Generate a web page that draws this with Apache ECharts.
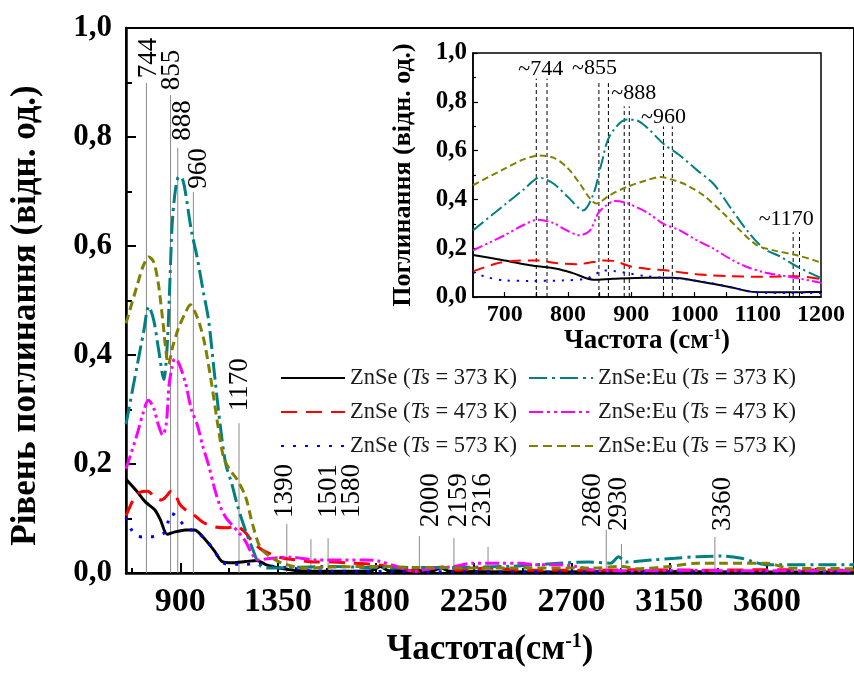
<!DOCTYPE html>
<html>
<head>
<meta charset="utf-8">
<script src="https://cdn.jsdelivr.net/npm/echarts@6/dist/echarts.min.js"></script>
<style>
html, body { margin: 0; padding: 0; background: #fff; }
#chart { width: 854px; height: 675px; }
</style>
</head>
<body>
<div id="chart"></div>
<script>
// Absorption spectra: [wavenumber cm^-1, absorbance]
const seriesNames = [
  'ZnSe (Ts = 373 K)', 'ZnSe (Ts = 473 K)', 'ZnSe (Ts = 573 K)',
  'ZnSe:Eu (Ts = 373 K)', 'ZnSe:Eu (Ts = 473 K)', 'ZnSe:Eu (Ts = 573 K)'
];

const znse373 = [[650,0.172],[700,0.15],[740,0.13],[782,0.116],[808,0.098],[840,0.071],[872,0.075],[924,0.079],[965,0.079],[1004,0.066],[1056,0.041],[1093,0.021],[1141,0.019],[1200,0.021],[1251,0.023],[1296,0.015],[1355,0.009],[1446,0.004],[1600,0.003],[1780,0.004],[1820,0.012],[1860,0.004],[2060,0.004],[2100,0.009],[2140,0.003],[2600,0.002],[3000,0.003],[3500,0.002],[4000,0.002]];
const znse473 = [[650,0.105],[687,0.137],[713,0.148],[750,0.15],[782,0.139],[813,0.134],[840,0.143],[856,0.15],[872,0.148],[898,0.126],[924,0.116],[961,0.107],[1004,0.093],[1056,0.085],[1109,0.083],[1160,0.085],[1200,0.074],[1232,0.057],[1278,0.042],[1355,0.029],[1432,0.024],[1524,0.02],[1600,0.02],[1688,0.018],[1811,0.015],[1902,0.009],[1980,0.003],[2052,0.008],[2110,0.011],[2175,0.005],[2312,0.009],[2500,0.005],[2800,0.005],[3000,0.006],[3300,0.005],[3600,0.006],[4000,0.005]];
const znse573 = [[650,0.102],[671,0.082],[700,0.068],[740,0.066],[792,0.068],[829,0.075],[845,0.096],[856,0.109],[872,0.107],[898,0.096],[924,0.085],[951,0.079],[977,0.075],[1030,0.055],[1083,0.025],[1109,0.017],[1200,0.016],[1251,0.017],[1330,0.012],[1432,0.008],[1506,0.004],[1700,0.003],[2500,0.002],[4000,0.002]];
const eu373 = [[650,0.273],[700,0.378],[730,0.44],[755,0.489],[777,0.465],[800,0.41],[824,0.355],[840,0.42],[853,0.546],[866,0.66],[893,0.727],[909,0.724],[924,0.697],[951,0.628],[977,0.58],[1004,0.52],[1030,0.464],[1056,0.369],[1083,0.273],[1109,0.2],[1136,0.165],[1162,0.125],[1200,0.078],[1232,0.045],[1264,0.015],[1300,0.009],[1400,0.01],[1600,0.012],[1800,0.01],[2000,0.01],[2400,0.012],[2780,0.02],[2880,0.018],[2917,0.03],[2950,0.02],[3072,0.024],[3177,0.027],[3282,0.03],[3391,0.031],[3482,0.027],[3541,0.02],[3600,0.015],[4000,0.015]];
const eu473 = [[650,0.191],[700,0.253],[729,0.294],[753,0.317],[777,0.303],[798,0.273],[819,0.253],[835,0.273],[848,0.344],[861,0.376],[874,0.393],[893,0.385],[924,0.348],[951,0.30],[977,0.273],[1004,0.232],[1030,0.198],[1056,0.157],[1083,0.123],[1109,0.102],[1136,0.089],[1167,0.075],[1200,0.058],[1230,0.035],[1255,0.024],[1300,0.026],[1401,0.029],[1524,0.024],[1751,0.024],[1811,0.022],[1902,0.011],[1980,0.003],[2050,0.008],[2159,0.012],[2250,0.018],[2371,0.018],[2462,0.018],[2539,0.015],[2644,0.015],[2720,0.012],[2813,0.005],[3000,0.004],[3200,0.005],[3500,0.004],[4000,0.004]];
const eu573 = [[650,0.458],[700,0.526],[729,0.563],[755,0.58],[777,0.571],[798,0.533],[819,0.464],[835,0.403],[845,0.383],[866,0.417],[893,0.451],[924,0.478],[946,0.492],[965,0.481],[988,0.458],[1014,0.417],[1046,0.342],[1072,0.273],[1099,0.212],[1125,0.191],[1162,0.171],[1200,0.14],[1232,0.09],[1264,0.05],[1296,0.035],[1369,0.018],[1478,0.009],[1600,0.011],[1800,0.012],[2000,0.01],[2400,0.009],[2800,0.009],[2930,0.012],[3000,0.008],[3150,0.012],[3282,0.018],[3391,0.018],[3600,0.018],[3700,0.009],[4000,0.008]];
const spectra = [znse373, znse473, znse573, eu373, eu473, eu573];

// Peak markers on the main panel: marker position, top of the marker line,
// where its label is anchored (x) and where the label starts (y)
const peaks = [744, 855, 888, 960, 1170, 1390, 1501, 1580, 2000, 2159, 2316, 2860, 2930, 3360];
const peakLineTops = [0.899, 0.877, 0.78, 0.699, 0.275, 0.09, 0.062, 0.064, 0.068, 0.064, 0.048, 0.079, 0.053, 0.066];
const peakLabelX = [755, 860, 914, 987, 1174, 1383, 1582, 1688, 2053, 2180, 2292, 2800, 2916, 3396];
const peakLabelBases = [0.908, 0.886, 0.793, 0.705, 0.297, 0.101, 0.101, 0.101, 0.084, 0.084, 0.084, 0.084, 0.077, 0.077];

// Inset markers: paired dashed lines and their labels
const insetLabels = ['~744', '~855', '~888', '~960', '~1170'];
const insetPairs = [[750, 767], [849, 864], [889, 897], [951, 965], [1156, 1166]];
const insetPairTops = [0.895, 0.881, 0.781, 0.699, 0.266];
const insetLabelX = [757, 842, 904, 951, 1145];
const insetLabelY = [0.934, 0.939, 0.836, 0.738, 0.32];

// Axis ticks
const mainXTicks = [900, 1350, 1800, 2250, 2700, 3150, 3600];
const mainXMinor = [675, 1125, 1575, 2025, 2475, 2925, 3375, 3825];
const insetXLabels = [700, 800, 900, 1000, 1100, 1200];
const insetXTicks = [700, 750, 800, 850, 900, 950, 1000, 1050, 1100, 1150];

const SERIF = '"Liberation Serif", "Times New Roman", serif';
const lineLooks = [
  { color: '#000000', type: 'solid' },
  { color: '#ff0000', type: [16, 9] },
  { color: '#0000ff', type: [3, 9] },
  { color: '#008080', type: [18, 5, 3, 5] },
  { color: '#ff00ff', type: [14, 4, 3, 4, 3, 4] },
  { color: '#808000', type: [9, 5] }
];
const scaleDash = (t, k) => Array.isArray(t) ? t.map(v => v * k) : t;
const comma = v => v.toFixed(1).replace('.', ',');
const plain = v => String(v);

const chart = echarts.init(document.getElementById('chart'), null, { renderer: 'canvas' });

const series = [];

// main panel peak markers
series.push({
  type: 'custom',
  xAxisIndex: 0, yAxisIndex: 0,
  z: 1,
  clip: false,
  data: peaks.map((p, i) => [p, peakLineTops[i], peakLabelX[i], peakLabelBases[i]]),
  renderItem: function (params, api) {
    const x = api.value(0);
    const p0 = api.coord([x, 0]);
    const p1 = api.coord([x, api.value(1)]);
    const pl = api.coord([api.value(2), api.value(3)]);
    return {
      type: 'group',
      children: [
        { type: 'line', shape: { x1: p0[0], y1: p0[1], x2: p1[0], y2: p1[1] },
          style: { stroke: '#8a8a8a', lineWidth: 1 } },
        { type: 'text', x: pl[0], y: pl[1], rotation: Math.PI / 2,
          style: { text: String(x), fontFamily: SERIF, fontSize: 27, fill: '#000',
                   align: 'left', verticalAlign: 'middle' } }
      ]
    };
  }
});

spectra.forEach((d, i) => {
  series.push({
    name: seriesNames[i],
    type: 'line',
    xAxisIndex: 0, yAxisIndex: 0,
    data: d,
    smooth: 0.3,
    symbol: 'none',
    z: 3,
    lineStyle: { color: lineLooks[i].color, type: lineLooks[i].type, width: 3 },
    itemStyle: { color: lineLooks[i].color }
  });
});

// inset markers
series.push({
  type: 'custom',
  xAxisIndex: 2, yAxisIndex: 1,
  z: 1,
  clip: false,
  data: insetPairs.map((p, i) => [p[0], p[1], insetPairTops[i], insetLabelX[i], insetLabelY[i]]),
  renderItem: function (params, api) {
    const top = api.value(2);
    const kids = [0, 1].map(k => {
      const b = api.coord([api.value(k), 0]);
      const t = api.coord([api.value(k), top]);
      return { type: 'line', shape: { x1: b[0], y1: b[1], x2: t[0], y2: t[1] },
               style: { stroke: '#000', lineWidth: 1, lineDash: [4, 3] } };
    });
    const pl = api.coord([api.value(3), api.value(4)]);
    kids.push({ type: 'text', x: pl[0], y: pl[1],
      style: { text: insetLabels[params.dataIndex], fontFamily: SERIF, fontSize: 22, fill: '#000',
               align: 'center', verticalAlign: 'middle' } });
    return { type: 'group', children: kids };
  }
});

spectra.forEach((d, i) => {
  series.push({
    name: seriesNames[i],
    type: 'line',
    xAxisIndex: 2, yAxisIndex: 1,
    data: d,
    smooth: 0.3,
    symbol: 'none',
    z: 3,
    lineStyle: { color: lineLooks[i].color, type: scaleDash(lineLooks[i].type, 0.75), width: 2 },
    itemStyle: { color: lineLooks[i].color }
  });
});

const legendText = {
  fontFamily: SERIF, fontSize: 22.5, lineHeight: 24, color: '#1a1a1a',
  rich: { i: { fontFamily: SERIF, fontSize: 22.5, lineHeight: 24, fontStyle: 'italic', color: '#1a1a1a' } }
};
const legendFmt = name => name.replace('Ts', '{i|Ts}');
const legendBase = {
  orient: 'vertical', top: 361, itemWidth: 64, itemHeight: 14, itemGap: 10,
  selectedMode: false, textStyle: legendText, formatter: legendFmt,
  itemStyle: { opacity: 0 }
};

const option = {
  animation: false,
  backgroundColor: '#fff',
  grid: [
    { left: 125, top: 28, width: 736, height: 545, show: true, borderColor: '#000', borderWidth: 2 },
    { left: 473, top: 53, width: 348, height: 244, show: true, borderColor: '#000', borderWidth: 1.5 }
  ],
  legend: [
    Object.assign({ data: seriesNames.slice(0, 3), left: 275 }, legendBase),
    Object.assign({ data: seriesNames.slice(3), left: 523 }, legendBase)
  ],
  xAxis: [
    {
      gridIndex: 0, type: 'value', min: 650, max: 4000, position: 'bottom',
      axisLine: { lineStyle: { color: '#000', width: 2.5 } },
      axisTick: { inside: true, length: 10, customValues: mainXTicks, lineStyle: { color: '#000', width: 2 } },
      axisLabel: { customValues: mainXTicks, formatter: plain, fontFamily: SERIF, fontWeight: 'bold', fontSize: 34, color: '#000', margin: 12 },
      splitLine: { show: false },
      name: 'Частота(см{sup|-1})', nameLocation: 'middle', nameGap: 59,
      nameTextStyle: { fontFamily: SERIF, fontWeight: 'bold', fontSize: 35, color: '#000',
        rich: { sup: { fontFamily: SERIF, fontWeight: 'bold', fontSize: 20, color: '#000', verticalAlign: 'top' } } }
    },
    {
      gridIndex: 0, type: 'value', min: 650, max: 4000, position: 'bottom',
      axisLine: { show: false },
      axisTick: { inside: true, length: 5, customValues: mainXMinor, lineStyle: { color: '#000', width: 2 } },
      axisLabel: { show: false },
      splitLine: { show: false }
    },
    {
      gridIndex: 1, type: 'value', min: 650, max: 1200, position: 'bottom',
      axisLine: { lineStyle: { color: '#000', width: 1.5 } },
      axisTick: { inside: true, length: 5, customValues: insetXTicks, lineStyle: { color: '#000', width: 1.2 } },
      axisLabel: { customValues: insetXLabels, formatter: plain, fontFamily: SERIF, fontWeight: 'bold', fontSize: 24, color: '#000', margin: 6 },
      splitLine: { show: false },
      name: 'Частота (см{sup|-1})', nameLocation: 'middle', nameGap: 30,
      nameTextStyle: { fontFamily: SERIF, fontWeight: 'bold', fontSize: 27, color: '#000',
        rich: { sup: { fontFamily: SERIF, fontWeight: 'bold', fontSize: 15, color: '#000', verticalAlign: 'top' } } }
    }
  ],
  yAxis: [
    {
      gridIndex: 0, type: 'value', min: 0, max: 1, interval: 0.2,
      axisLine: { lineStyle: { color: '#000', width: 2.5 } },
      axisTick: { inside: true, length: 10, lineStyle: { color: '#000', width: 2 } },
      minorTick: { show: true, splitNumber: 2, length: 6, lineStyle: { color: '#000', width: 2 } },
      axisLabel: { formatter: comma, fontFamily: SERIF, fontWeight: 'bold', fontSize: 31, color: '#000', margin: 14 },
      splitLine: { show: false },
      name: 'Рівень поглинання (відн. од.)', nameLocation: 'middle', nameGap: 83,
      nameTextStyle: { fontFamily: SERIF, fontWeight: 'bold', fontSize: 35, color: '#000', padding: [0, 30, 0, 0] }
    },
    {
      gridIndex: 1, type: 'value', min: 0, max: 1, interval: 0.2,
      axisLine: { lineStyle: { color: '#000', width: 1.5 } },
      axisTick: { inside: true, length: 5, lineStyle: { color: '#000', width: 1.2 } },
      minorTick: { show: true, splitNumber: 2, length: 3, lineStyle: { color: '#000', width: 1.2 } },
      axisLabel: { formatter: comma, fontFamily: SERIF, fontWeight: 'bold', fontSize: 25, color: '#000', margin: 6 },
      splitLine: { show: false },
      name: 'Поглинання (відн. од.)', nameLocation: 'middle', nameGap: 57,
      nameTextStyle: { fontFamily: SERIF, fontWeight: 'bold', fontSize: 26, color: '#000' }
    }
  ],
  series: series
};

chart.setOption(option);
</script>
</body>
</html>
